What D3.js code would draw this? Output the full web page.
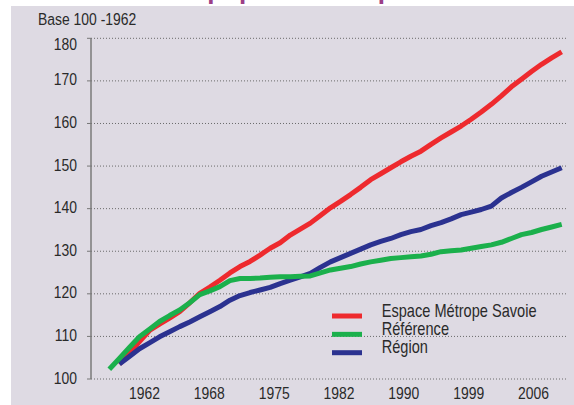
<!DOCTYPE html>
<html><head><meta charset="utf-8">
<script src="https://cdn.jsdelivr.net/npm/d3@7"></script>
<style>
html,body{margin:0;padding:0;background:#fff;}
svg{display:block;}
.lbl{font-family:"Liberation Sans",Arial,sans-serif;fill:#2a2a2a;}
</style>
</head><body>
<svg id="c" width="574" height="405"></svg>
<script>
const titleText = "Évolution de la population depuis 1962";
const yAxisTitle = "Base 100 -1962";
const years = [1961,1962,1963,1964,1965,1966,1967,1968,1969,1970,1971,1972,1973,1974,1975,1976,1977,1978,1979,1980,1981,1982,1983,1984,1985,1986,1987,1988,1989,1990,1991,1992,1993,1994,1995,1996,1997,1998,1999,2000,2001,2002,2003,2004,2005,2006];
const espace = [null,103.5,106.1,108.8,111.4,112.9,114.3,115.8,117.9,120.1,121.6,123.2,124.9,126.4,127.6,129.1,130.7,132.0,133.8,135.2,136.6,138.4,140.2,141.7,143.3,145.0,146.8,148.2,149.6,151.0,152.3,153.5,155.1,156.6,158.0,159.4,161.0,162.7,164.5,166.5,168.6,170.4,172.2,173.9,175.4,176.8];
const reference = [102.3,104.8,107.4,109.9,111.7,113.5,114.9,116.2,117.9,119.8,120.7,121.7,123.1,123.6,123.6,123.7,123.9,124.0,124.0,124.1,124.2,124.9,125.6,126.0,126.4,127.0,127.5,127.9,128.3,128.5,128.7,128.9,129.3,129.9,130.1,130.3,130.7,131.1,131.5,132.1,133.0,133.9,134.4,135.1,135.7,136.3];
const region = [null,103.5,105.3,107.1,108.5,109.9,111.1,112.3,113.4,114.6,115.8,117.0,118.5,119.6,120.3,120.9,121.5,122.4,123.2,124.0,124.8,126.2,127.5,128.5,129.5,130.5,131.5,132.3,133.0,133.9,134.6,135.1,136.0,136.7,137.6,138.6,139.2,139.8,140.6,142.5,143.8,145.0,146.3,147.6,148.6,149.6];
const seriesNames = ["Espace Métrope Savoie","Référence","Région"];
const seriesColors = ["#ee2a2e","#1bb04c","#2b3290"];
const yTicks = [100,110,120,130,140,150,160,170,180];
const xLabels = ["1962","1968","1975","1982","1990","1999","2006"];

const series = [espace, reference, region];
const drawOrder = [0, 2, 1];
const NARROW = 0.82;

const svg = d3.select("#c");
svg.append("rect").attr("x",11).attr("y",6).attr("width",563).attr("height",399).attr("fill","#dedae3");

const x = d3.scaleLinear().domain([1961, 2006]).range([109.3, 561.7]);
const y = d3.scaleLinear().domain([100, 180]).range([379, 38.3]);
const xl = d3.scalePoint().domain(xLabels).range([144.5, 533.5]);

function place(sel, fx, fy) {
  sel.attr("transform", (d,i) => `translate(${fx(d,i)},${fy(d,i)}) scale(${NARROW},1)`);
}

svg.append("g").selectAll("line").data(yTicks).join("line")
  .attr("x1", 91).attr("x2", 567)
  .attr("y1", d => y(d)).attr("y2", d => y(d))
  .attr("stroke", "#6a6a6a").attr("stroke-width", 1).attr("stroke-dasharray", "1,2");
svg.append("g").selectAll("line").data(yTicks).join("line")
  .attr("x1", 87).attr("x2", 91)
  .attr("y1", d => y(d)).attr("y2", d => y(d))
  .attr("stroke", "#777").attr("stroke-width", 1);
svg.append("line").attr("x1",91).attr("x2",91).attr("y1",y(180)).attr("y2",y(100))
  .attr("stroke","#7a7a7a").attr("stroke-width",1.5);

const yl = svg.append("g").selectAll("text").data(yTicks).join("text").attr("class","lbl")
  .attr("text-anchor","end").attr("font-size",17).text(d => d);
place(yl, () => 77, d => y(d) + (d === 180 ? 11.7 : 4.6));

const xt = svg.append("g").selectAll("text").data(xLabels).join("text").attr("class","lbl")
  .attr("text-anchor","middle").attr("font-size",17).text(d => d);
place(xt, d => xl(d), () => 399.3);

const at = svg.append("text").attr("class","lbl").attr("font-size",17).text(yAxisTitle);
place(at, () => 38, () => 25);

const line = d3.line().defined(d => d[1] != null).x(d => x(d[0])).y(d => y(d[1]));
drawOrder.forEach(i => {
  const pts = years.map((yr, j) => [yr, series[i][j]]);
  svg.append("path").datum(pts).attr("d", line)
    .attr("fill","none").attr("stroke", seriesColors[i]).attr("stroke-width",5)
    .attr("stroke-linejoin","round").attr("stroke-linecap","butt");
});

const legendY = d3.scalePoint().domain(seriesNames).range([316, 352.7]);
const lg = svg.append("g");
lg.selectAll("line").data(seriesNames).join("line")
  .attr("x1", 332).attr("x2", 362)
  .attr("y1", d => legendY(d)).attr("y2", d => legendY(d))
  .attr("stroke", (d,i) => seriesColors[i]).attr("stroke-width", 5);
const lt = lg.selectAll("text").data(seriesNames).join("text").attr("class","lbl")
  .attr("font-size",17.8).text(d => d);
place(lt, () => 381.7, d => legendY(d) + 0.5);

const t = svg.append("text").attr("font-family","Liberation Sans, Arial, sans-serif").attr("font-weight","bold")
  .attr("font-size",26).attr("fill","#9c3f86").attr("y",-1.3).text(titleText);
const off = t.node().getSubStringLength(0, titleText.indexOf("population"));
t.attr("x", 207.3 - off);
</script>
</body></html>
